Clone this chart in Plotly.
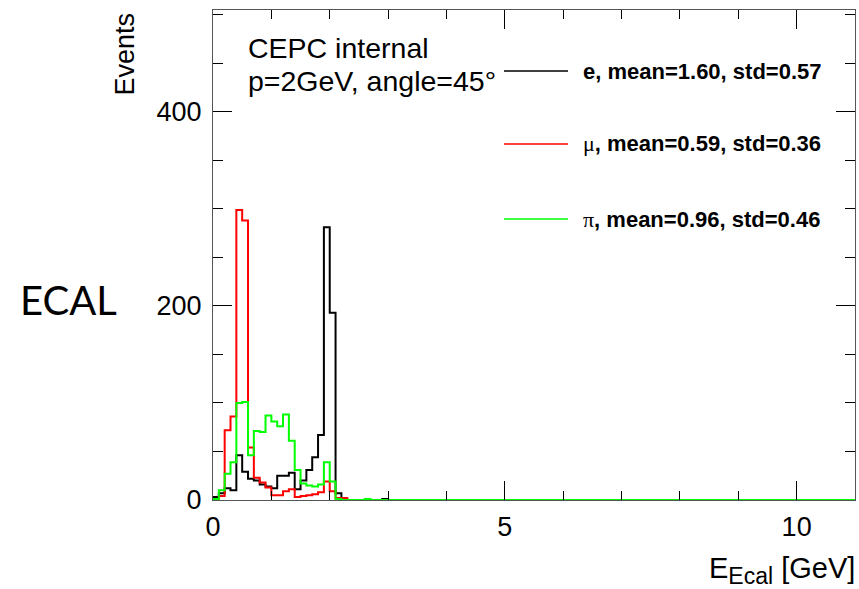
import numpy as np
import plotly.graph_objects as go

# Histogram binning: 0.1 GeV bins on 0-11 GeV
bin_width = 0.1
n_bins = 110

# Bin contents (events per 0.1 GeV bin, starting at 0 GeV); remaining bins are empty
counts_e = [3, 7, 12, 10, 46, 29, 22, 20, 16, 14, 12, 25, 25, 28, 11, 20, 31, 44, 67,
            281, 193, 7, 1, 0, 0, 0, 0, 0, 0, 1]
counts_mu = [1, 4, 72, 86, 299, 288, 54, 23, 18, 13, 5, 5, 9, 11, 3, 4, 5, 6, 8,
             19, 9, 2, 2, 0, 0, 0, 0, 0, 0, 0]
counts_pi = [1, 10, 27, 39, 100, 101, 46, 71, 70, 87, 81, 76, 88, 61, 31, 17, 15, 14, 16,
             39, 19, 1, 0, 0, 0, 0, 1, 0, 0, 0]

labels = ["e, mean=1.60, std=0.57",
          "μ, mean=0.59, std=0.36",
          "π, mean=0.96, std=0.46"]
colors = ["#000000", "#ff0000", "#00ff00"]

x_ticks = [0, 5, 10]
y_ticks = [0, 200, 400]

W, H = 859, 589
L, R, T, B = 213, 855, 10, 500   # frame in pixels


def px(p):
    return (p - L) / (R - L)


def py(p):
    return (B - p) / (B - T)


def step_xy(counts):
    c = np.zeros(n_bins)
    c[:len(counts)] = counts
    edges = np.arange(n_bins + 1) * bin_width
    xs = np.concatenate([[edges[0]], edges])
    ys = np.concatenate([[0.0], c, [c[-1]]])
    return xs, ys


fig = go.Figure()
for cnt, col in zip([counts_e, counts_mu, counts_pi], colors):
    xs, ys = step_xy(cnt)
    fig.add_trace(go.Scatter(x=xs, y=ys, mode="lines", line=dict(color=col, width=2, shape="hv"),
                             showlegend=False, hoverinfo="skip"))

FONT = "Liberation Sans, Arial, sans-serif"
axis_font = dict(family=FONT, size=27, color="black")

fig.update_layout(
    width=W, height=H,
    margin=dict(l=L, r=W - R, t=T, b=H - B, pad=0),
    paper_bgcolor="white", plot_bgcolor="white",
    xaxis=dict(range=[0, 11], tickvals=x_ticks, ticktext=[str(v) for v in x_ticks],
               ticks="inside", ticklen=19, tickwidth=1, tickcolor="black",
               minor=dict(dtick=1, ticklen=9, tickwidth=1, tickcolor="black", ticks="inside", showgrid=False),
               showline=True, linecolor="#555555", linewidth=1, mirror="ticks",
               showgrid=False, zeroline=False, tickfont=axis_font, ticklabelstandoff=3),
    yaxis=dict(range=[0, 505], tickvals=y_ticks, ticktext=[str(v) for v in y_ticks],
               ticks="inside", ticklen=19, tickwidth=1, tickcolor="black",
               minor=dict(dtick=50, ticklen=10, tickwidth=1, tickcolor="black", ticks="inside", showgrid=False),
               showline=True, linecolor="#555555", linewidth=1, mirror="ticks",
               showgrid=False, zeroline=False, tickfont=axis_font, ticklabelstandoff=5),
)

ann = []
# axis titles
ann.append(dict(x=px(124), y=py(11), xref="paper", yref="paper", text="Events", textangle=-90,
                showarrow=False, xanchor="center", yanchor="top", font=axis_font))
ann.append(dict(x=px(857), y=py(570), xref="paper", yref="paper",
                text='E<sub><span style="font-size:23px">Ecal</span></sub> [GeV]',
                showarrow=False, xanchor="right", yanchor="middle",
                font=dict(family=FONT, size=29, color="black")))
# header text
ann.append(dict(x=px(246), y=py(48), xref="paper", yref="paper", text="CEPC internal",
                showarrow=False, xanchor="left", yanchor="middle",
                font=dict(family=FONT, size=28.5, color="black")))
ann.append(dict(x=px(246), y=py(81), xref="paper", yref="paper", text="p=2GeV, angle=45°",
                showarrow=False, xanchor="left", yanchor="middle",
                font=dict(family=FONT, size=28.5, color="black")))
# side label
ann.append(dict(x=px(68), y=py(300), xref="paper", yref="paper", text="ECAL",
                showarrow=False, xanchor="center", yanchor="middle",
                font=dict(family="Lato, Open Sans, sans-serif", size=40, color="black")))

# legend
leg_y = [71, 144, 219]
shapes = []
for lab, col, yy in zip(labels, colors, leg_y):
    shapes.append(dict(type="line", xref="paper", yref="paper", x0=px(504), x1=px(568),
                       y0=py(yy), y1=py(yy), line=dict(color=col, width=1.5)))
    head, rest = lab.split(",", 1)
    if head in ("μ", "π"):
        head = '<span style="font-family:Liberation Serif, serif;font-weight:normal">' + head + '</span>'
    txt = "<b>" + head + "," + rest + "</b>"
    ann.append(dict(x=px(581), y=py(yy), xref="paper", yref="paper", text=txt,
                    showarrow=False, xanchor="left", yanchor="middle",
                    font=dict(family=FONT, size=22, color="black")))

fig.update_layout(annotations=ann, shapes=shapes)
fig.write_html("out.html")
